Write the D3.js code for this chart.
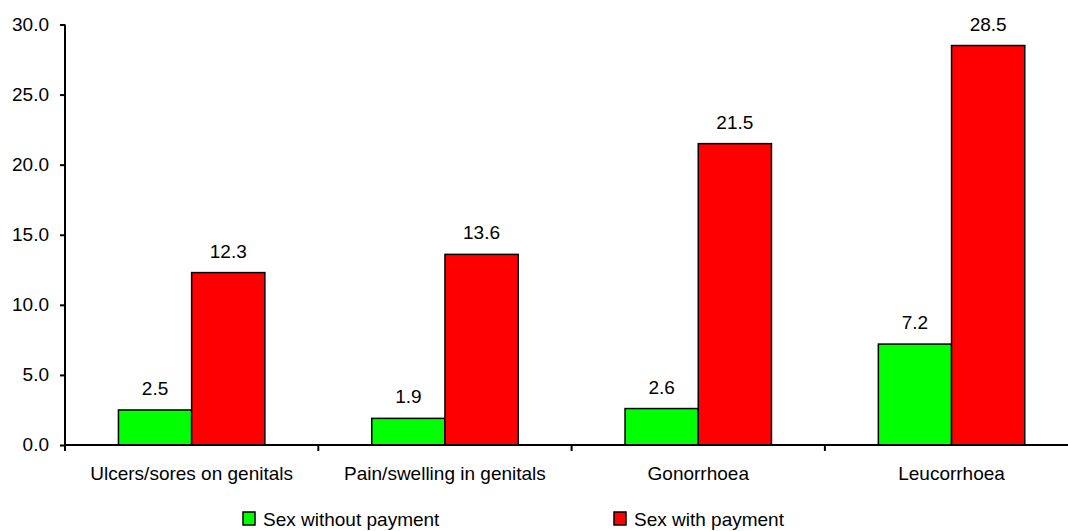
<!DOCTYPE html>
<html>
<head>
<meta charset="utf-8">
<script src="https://cdn.jsdelivr.net/npm/d3@7"></script>
<style>
  body { margin: 0; background: #fff; }
  svg text { font-family: "Liberation Sans", Arial, sans-serif; fill: #000; }
</style>
</head>
<body>
<svg id="chart" width="1068" height="531"></svg>
<script>
// chart data
const categories = ["Ulcers/sores on genitals", "Pain/swelling in genitals", "Gonorrhoea", "Leucorrhoea"];
const seriesNames = ["Sex without payment", "Sex with payment"];
const withoutPayment = [2.5, 1.9, 2.6, 7.2];
const withPayment = [12.3, 13.6, 21.5, 28.5];
const yTicks = [0, 5, 10, 15, 20, 25, 30];
const colors = ["#00ff00", "#ff0000"];

const fs = "19px";
const svg = d3.select("#chart");
const plotLeft = 65, plotTop = 24.5, plotBottom = 445, groupW = 253.3;

const x = d3.scaleBand()
    .domain(categories)
    .range([plotLeft, plotLeft + groupW * categories.length])
    .paddingInner(0).paddingOuter(0);

const xInner = d3.scaleBand()
    .domain(seriesNames)
    .range([0, groupW])
    .paddingInner(0)
    .paddingOuter(0.73);

const y = d3.scaleLinear().domain([0, 30]).range([plotBottom, plotTop]);

const rows = categories.map((c, i) => ({ cat: c, vals: [withoutPayment[i], withPayment[i]] }));

// bars
const g = svg.append("g");
rows.forEach(r => {
  r.vals.forEach((v, j) => {
    g.append("rect")
      .attr("x", x(r.cat) + xInner(seriesNames[j]))
      .attr("y", y(v))
      .attr("width", xInner.bandwidth())
      .attr("height", y(0) - y(v))
      .attr("fill", colors[j])
      .attr("stroke", "#000")
      .attr("stroke-width", 1.5);
    g.append("text")
      .attr("x", x(r.cat) + xInner(seriesNames[j]) + xInner.bandwidth() / 2)
      .attr("y", y(v) - 15)
      .attr("text-anchor", "middle")
      .style("font-size", fs)
      .text(v.toFixed(1));
  });
});

// y axis
const yAxis = d3.axisLeft(y).tickValues(yTicks).tickFormat(d3.format(".1f")).tickSize(5).tickPadding(11);
const ya = svg.append("g").attr("transform", `translate(${plotLeft},0)`).call(yAxis);
ya.select(".domain").attr("stroke", "#000").attr("stroke-width", 2).attr("d", `M0,${plotTop}V${plotBottom}`);
ya.selectAll(".tick line").attr("stroke-width", 2);
ya.selectAll("text").style("font-size", fs).attr("dy", "0.3em");

// x axis
const xa = svg.append("g").attr("transform", `translate(0,${plotBottom})`);
xa.append("line").attr("x1", plotLeft).attr("x2", 1068).attr("stroke", "#000").attr("stroke-width", 2);
d3.range(categories.length).forEach(i => {
  xa.append("line")
    .attr("x1", plotLeft + i * groupW).attr("x2", plotLeft + i * groupW)
    .attr("y1", 0).attr("y2", 6)
    .attr("stroke", "#000").attr("stroke-width", 2);
});
xa.selectAll("text.cat").data(categories).enter().append("text")
  .attr("class", "cat")
  .attr("x", d => x(d) + x.bandwidth() / 2)
  .attr("y", 35)
  .attr("text-anchor", "middle")
  .style("font-size", fs)
  .text(d => d);

// legend
const legendX = [243, 614];
seriesNames.forEach((s, j) => {
  const lg = svg.append("g").attr("transform", `translate(${legendX[j]},512)`);
  lg.append("rect").attr("width", 12).attr("height", 13)
    .attr("fill", colors[j]).attr("stroke", "#000").attr("stroke-width", 1.5);
  lg.append("text").attr("x", 20).attr("y", 14).style("font-size", fs).text(s);
});
</script>
</body>
</html>
